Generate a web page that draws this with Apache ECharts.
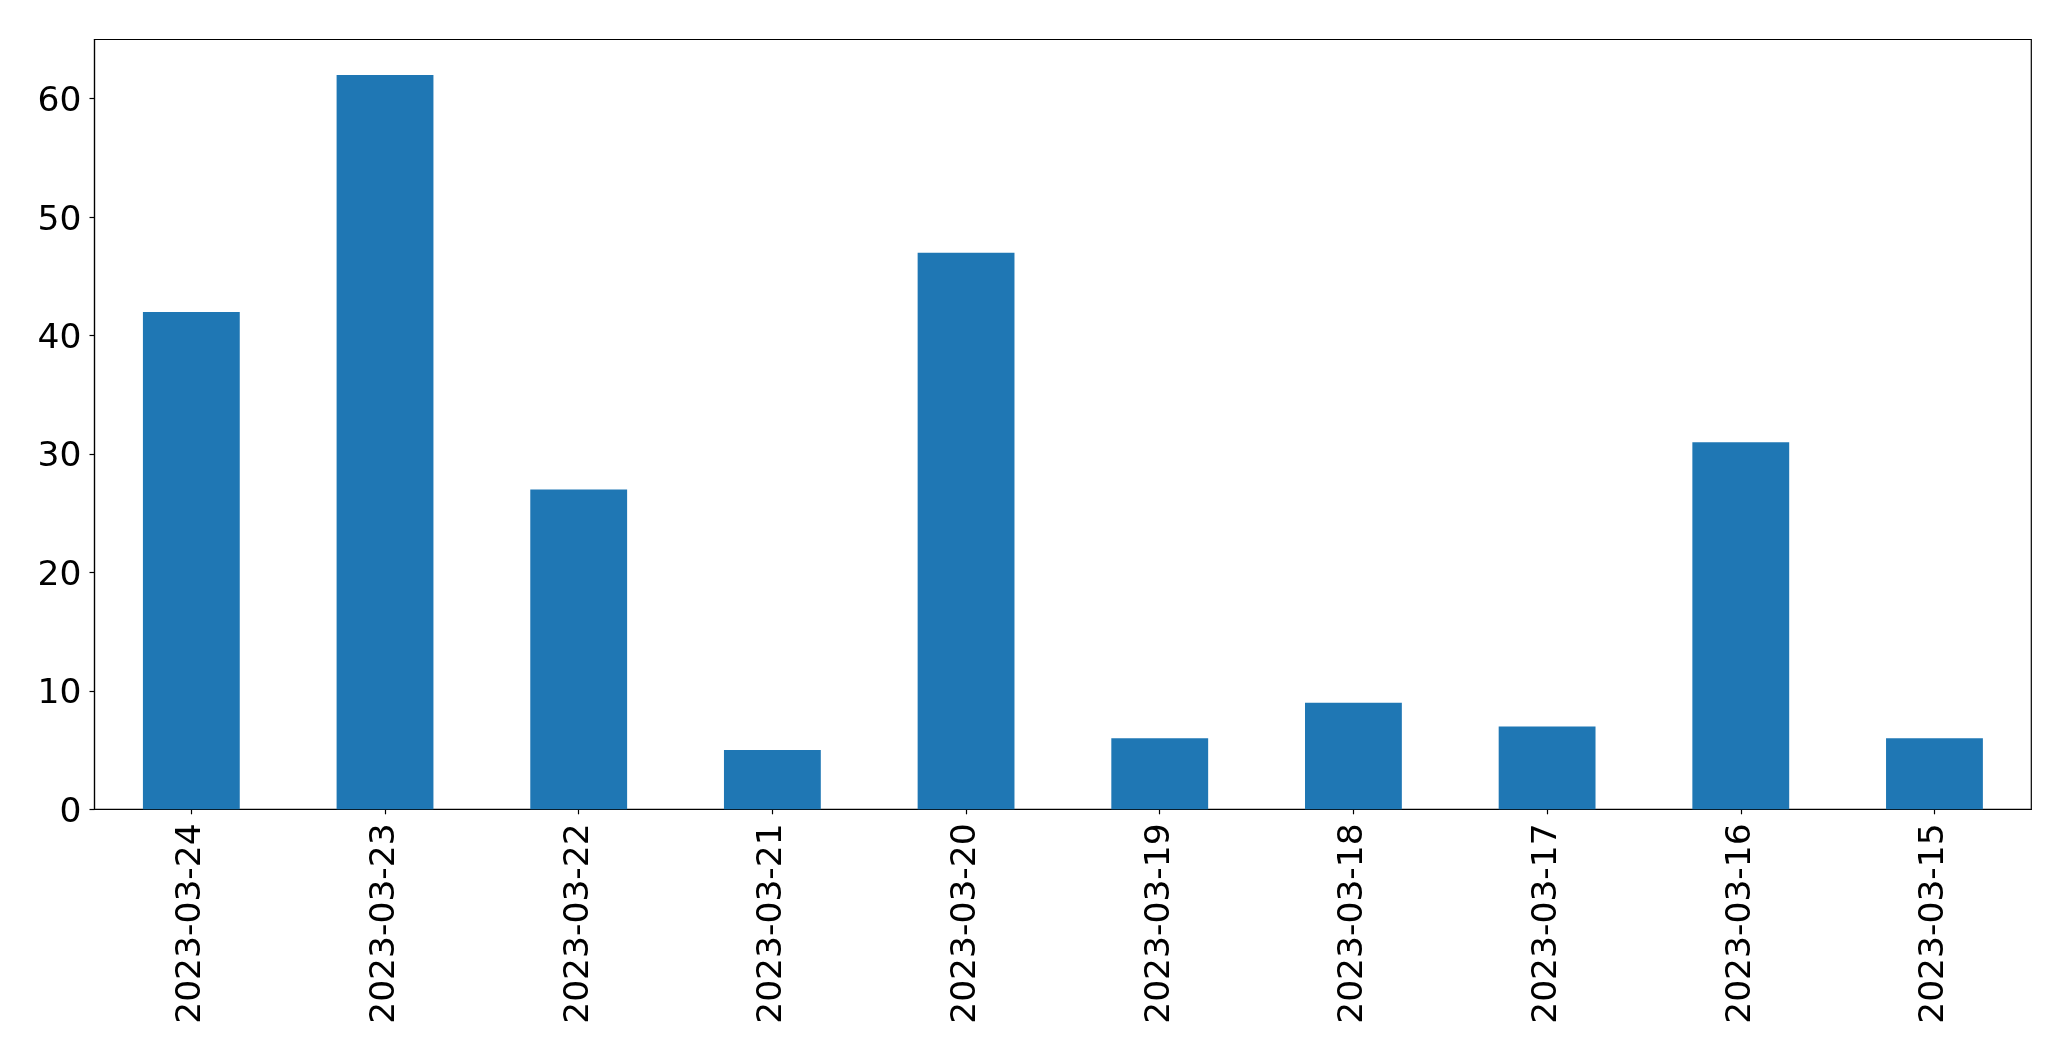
<!DOCTYPE html>
<html>
<head>
<meta charset="utf-8">
<script src="https://cdn.jsdelivr.net/npm/echarts@6/dist/echarts.min.js"></script>
<style>
html,body{margin:0;padding:0;background:#fff;}
#chart{width:2071px;height:1061px;}
</style>
</head>
<body>
<div id="chart"></div>
<script>
const categories = ["2023-03-24","2023-03-23","2023-03-22","2023-03-21","2023-03-20","2023-03-19","2023-03-18","2023-03-17","2023-03-16","2023-03-15"];
const values = [42, 62, 27, 5, 47, 6, 9, 7, 31, 6];
const yTicks = [0, 10, 20, 30, 40, 50, 60];

const chart = echarts.init(document.getElementById('chart'), null, {renderer: 'canvas'});
const font = 'DejaVu Sans';
chart.setOption({
  animation: false,
  backgroundColor: '#ffffff',
  grid: {
    left: 94.5, top: 39.5, right: 39.7, bottom: 251.7,
    show: true, borderColor: '#000', borderWidth: 1.2, backgroundColor: 'transparent'
  },
  xAxis: {
    type: 'category',
    data: categories,
    axisLine: {show: true, lineStyle: {color: '#000', width: 1.2}},
    axisTick: {show: true, alignWithLabel: true, length: 5, lineStyle: {color: '#000', width: 1.2}},
    axisLabel: {rotate: 90, color: '#000', fontSize: 34.5, fontFamily: font, margin: 14, interval: 0}
  },
  yAxis: {
    type: 'value',
    min: 0, max: 65, interval: 10,
    axisLine: {show: true, lineStyle: {color: '#000', width: 1.2}},
    axisTick: {show: true, length: 5, lineStyle: {color: '#000', width: 1.2}},
    splitLine: {show: false},
    axisLabel: {
      color: '#000', fontSize: 34.5, fontFamily: font, margin: 13,
      showMaxLabel: false,
      formatter: function (v) { return yTicks.indexOf(v) >= 0 ? '{t|' + v + '}' : ''; },
      rich: {t: {color: '#000', fontSize: 34.5, fontFamily: font, padding: [7, 0, 0, 0]}}
    }
  },
  series: [{
    type: 'bar',
    data: values,
    barWidth: '50%',
    itemStyle: {color: '#1f77b4'}
  }]
});
</script>
</body>
</html>
